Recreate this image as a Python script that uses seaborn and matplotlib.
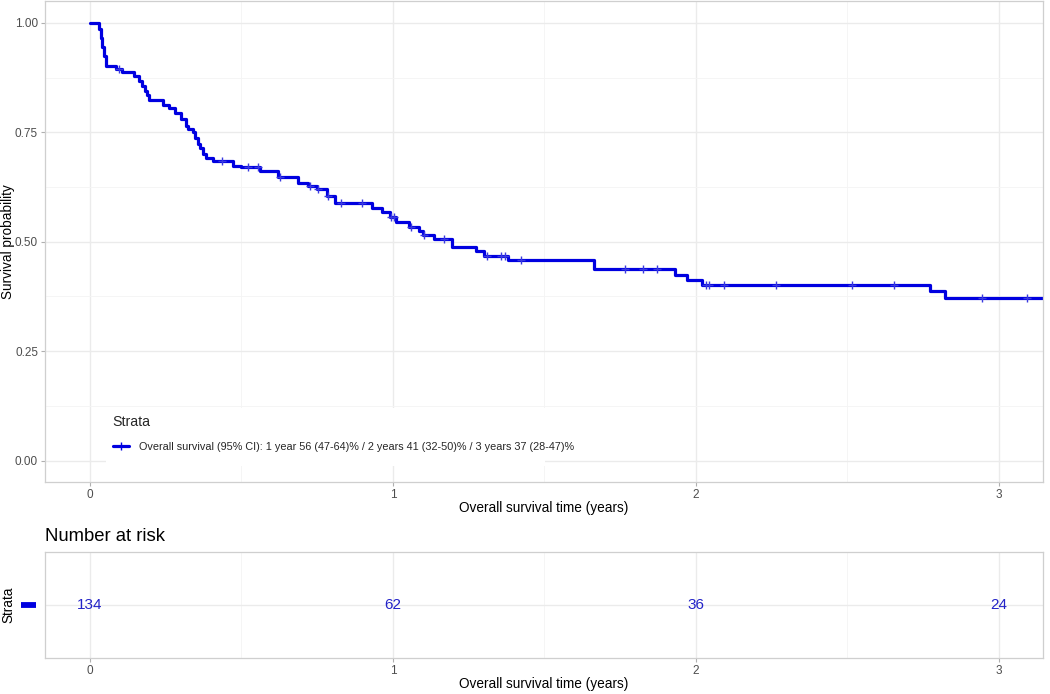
import numpy as np
import pandas as pd
import matplotlib
matplotlib.use("Agg")
import matplotlib.pyplot as plt
from matplotlib.lines import Line2D
from matplotlib.patches import Rectangle
import seaborn as sns

# ---- data ----
step_time = [0.000, 0.030, 0.035, 0.040, 0.045, 0.052, 0.087, 0.107, 0.146, 0.163,
             0.170, 0.180, 0.187, 0.196, 0.240, 0.262, 0.279, 0.300, 0.316, 0.325,
             0.340, 0.348, 0.356, 0.364, 0.373, 0.384, 0.406, 0.472, 0.500, 0.561,
             0.622, 0.688, 0.721, 0.749, 0.782, 0.810, 0.932, 0.965, 0.990, 1.009,
             1.052, 1.086, 1.100, 1.135, 1.194, 1.274, 1.300, 1.380, 1.664, 1.931,
             1.971, 2.021, 2.771, 2.823, 3.200]
step_surv = [1.000, 0.985, 0.965, 0.945, 0.925, 0.902, 0.894, 0.887, 0.879, 0.868,
             0.856, 0.845, 0.836, 0.824, 0.813, 0.805, 0.795, 0.780, 0.764, 0.757,
             0.750, 0.738, 0.723, 0.715, 0.700, 0.692, 0.684, 0.674, 0.670, 0.662,
             0.647, 0.635, 0.628, 0.620, 0.605, 0.588, 0.578, 0.567, 0.556, 0.544,
             0.534, 0.525, 0.516, 0.506, 0.487, 0.478, 0.468, 0.458, 0.438, 0.425,
             0.413, 0.402, 0.387, 0.371, 0.371]
censor_time = [0.096, 0.434, 0.522, 0.555, 0.627, 0.725, 0.752, 0.785, 0.830, 0.898,
               0.992, 1.003, 1.059, 1.103, 1.169, 1.311, 1.357, 1.368, 1.424, 1.767,
               1.825, 1.872, 2.032, 2.043, 2.093, 2.264, 2.516, 2.652, 2.943, 3.092]
risk_time = [0, 1, 2, 3]
risk_n = [134, 62, 36, 24]
legend_label = ("Overall survival (95% CI): 1 year 56 (47-64)% / 2 years 41 (32-50)% "
                "/ 3 years 37 (28-47)%")

BLUE = "#0000E0"
GRID = "#EBEBEB"
MINOR = "#F4F4F4"
BORDER = "#CFCFCF"
TICKC = "#4D4D4D"

sns.set_theme(style="white")
plt.rcParams["font.family"] = ["Liberation Sans", "DejaVu Sans"]

W, H = 1050, 694
fig = plt.figure(figsize=(W / 100, H / 100), dpi=100)

def fx(px):
    return px / W

def fy(py):
    return 1 - py / H

XLIM = (-45 / 303, 953 / 303)
AX_L, AX_R = 45, 1043

ax = fig.add_axes([fx(AX_L), fy(482), fx(AX_R) - fx(AX_L), fy(1) - fy(482)])
ax2 = fig.add_axes([fx(AX_L), fy(657.7), fx(AX_R) - fx(AX_L), fy(551.7) - fy(657.7)])

def style_axes(a):
    for s in a.spines.values():
        s.set_color(BORDER)
        s.set_linewidth(0.9)
    a.set_facecolor("white")
    a.tick_params(axis="both", colors="#B0B0B0", length=3, width=0.8,
                  labelcolor=TICKC, labelsize=8.5, pad=2, bottom=True, left=True)
    a.set_axisbelow(True)

# ---- survival curve ----
curve = pd.DataFrame({"time": step_time, "surv": step_surv})
sns.lineplot(data=curve, x="time", y="surv", ax=ax, color=BLUE, lw=2.3,
             drawstyle="steps-post", estimator=None, sort=False, legend=False)
idx = np.searchsorted(np.array(step_time), np.array(censor_time), side="right") - 1
cens = pd.DataFrame({"time": censor_time, "surv": np.array(step_surv)[idx]})
sns.scatterplot(data=cens, x="time", y="surv", ax=ax, marker="+", s=28,
                color="#3A3AE0", linewidth=1.0, legend=False, zorder=3)

style_axes(ax)
ax.set_xlim(*XLIM)
ax.set_ylim(-0.049, 1.05)
ax.set_xticks([0, 1, 2, 3])
ax.set_xticks([0.5, 1.5, 2.5], minor=True)
ax.set_yticks([0, 0.25, 0.5, 0.75, 1.0])
ax.set_yticks([0.125, 0.375, 0.625, 0.875], minor=True)
ax.set_yticklabels(["0.00", "0.25", "0.50", "0.75", "1.00"])
ax.tick_params(which="minor", length=0)
ax.grid(which="major", color=GRID, lw=1.0)
ax.grid(which="minor", color=MINOR, lw=0.6)
ax.set_xlabel("Overall survival time (years)", fontsize=9.8, color="black", labelpad=0)
ax.set_ylabel("Survival probability", fontsize=9.8, color="black")
ax.yaxis.label.set_va("center")
ax.yaxis.set_label_coords((8 - AX_L) / (AX_R - AX_L), 0.5)

# legend background (white box hiding the grid)
ax.add_patch(Rectangle((fx(106), fy(466)), fx(545) - fx(106), fy(408) - fy(466),
                       transform=fig.transFigure, facecolor="white", edgecolor="none",
                       zorder=1, clip_on=False))
handle = Line2D([], [], color=BLUE, lw=2.3, marker="+", markersize=6,
                markeredgewidth=1.0)
leg = ax.legend([handle], [legend_label], title="Strata", loc="upper left",
                bbox_to_anchor=(fx(112.7), fy(414.5)), bbox_transform=fig.transFigure,
                fontsize=7.8, title_fontsize=10.2, frameon=False, handlelength=1.55,
                handletextpad=0.9, borderpad=0, labelspacing=1.2, alignment="left",
                borderaxespad=0)

# ---- risk table ----
style_axes(ax2)
ax2.set_xlim(*XLIM)
ax2.set_ylim(0.4, 1.6)
ax2.set_xticks([0, 1, 2, 3])
ax2.set_xticks([0.5, 1.5, 2.5], minor=True)
ax2.set_yticks([1])
ax2.set_yticklabels([""])
ax2.tick_params(axis="y", length=0)
ax2.tick_params(which="minor", length=0)
ax2.grid(which="major", color=GRID, lw=1.0)
ax2.grid(which="minor", axis="x", color=MINOR, lw=0.6)
for t, n in zip(risk_time, risk_n):
    ax2.text(t, 1, str(n), ha="center", va="center", fontsize=11, color="#2323C8")
ax2.set_xlabel("Overall survival time (years)", fontsize=9.8, color="black", labelpad=0)
ax2.set_ylabel("Strata", fontsize=9.8, color="black")
ax2.yaxis.label.set_va("center")
ax2.yaxis.set_label_coords((8 - AX_L) / (AX_R - AX_L), 0.5)
ax2.set_title("Number at risk", loc="left", fontsize=13.3, color="black", pad=8)
fig.add_artist(Line2D([fx(21), fx(36)], [fy(604.5), fy(604.5)], color=BLUE,
                      lw=4.2, solid_capstyle="butt"))

fig.savefig("out.png", dpi=100, facecolor="white")
